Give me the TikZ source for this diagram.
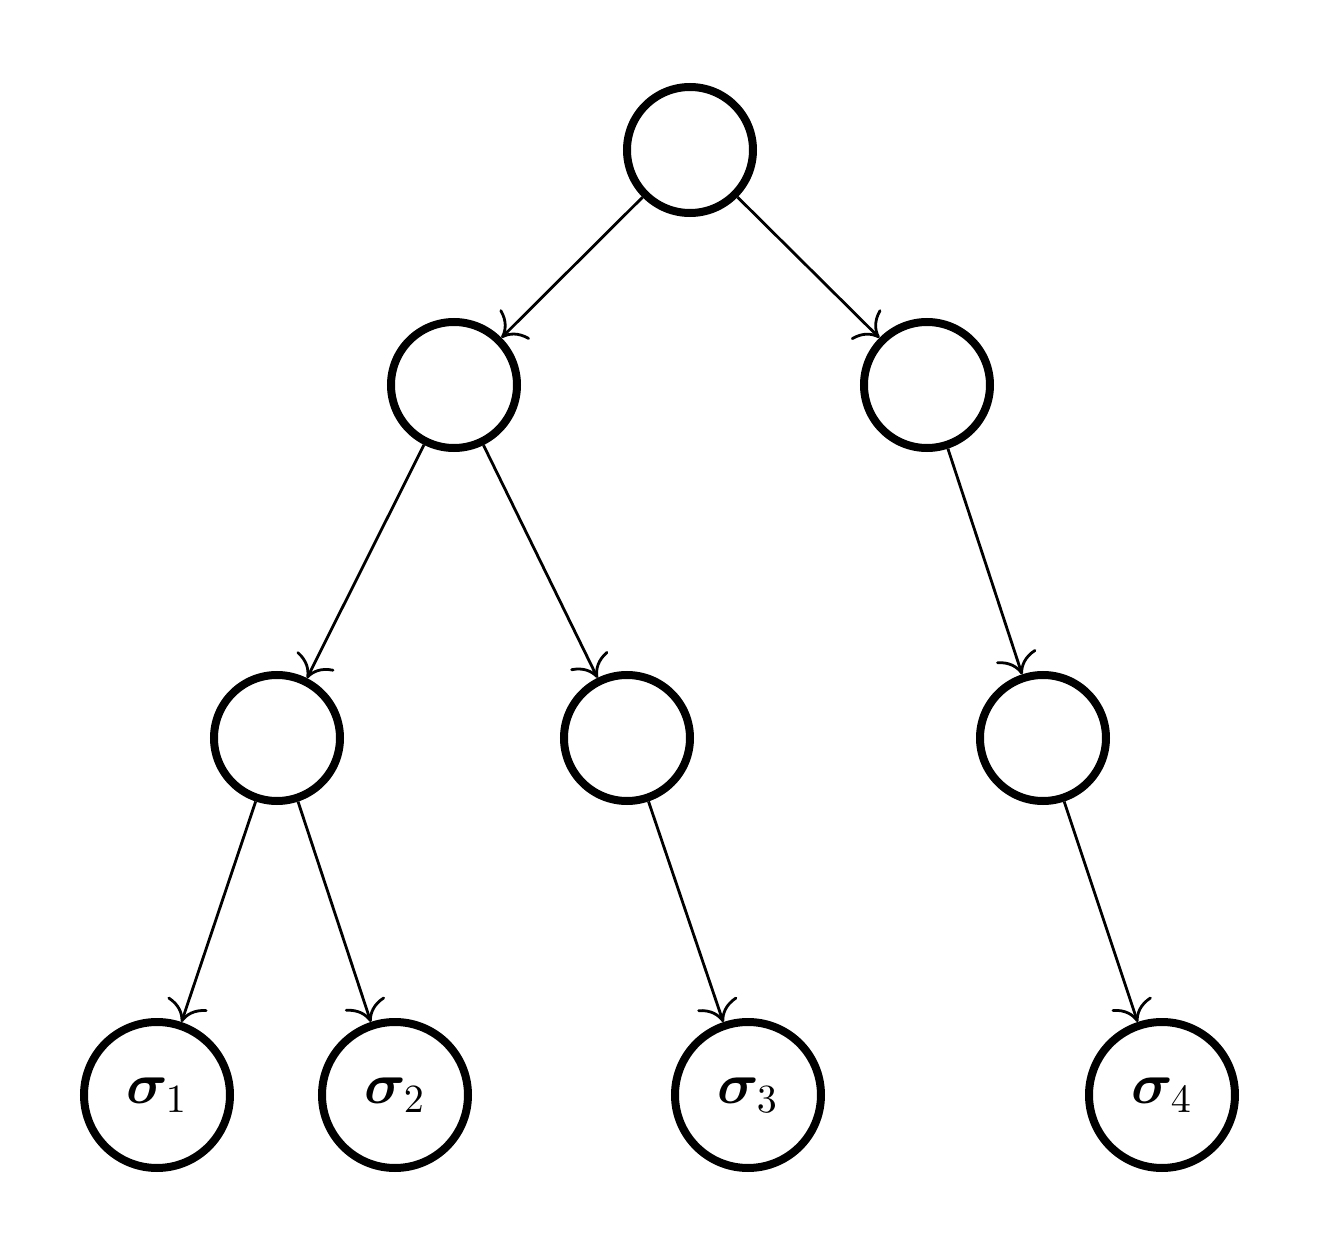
\documentclass[tikz,border=0pt]{standalone}
\usepackage{amsmath,bm}
\usetikzlibrary{arrows.meta}
\begin{document}
\begin{tikzpicture}[x=0.25pt,y=-0.25pt,
  nd/.style={circle,draw,line width=2pt,minimum size=31.5pt,inner sep=0pt},
  lf/.style={circle,draw,line width=2pt,minimum size=36.5pt,inner sep=0pt,font=\Large},
  ar/.style={-{To[scale=1.6]},line width=0.7pt}]
\useasboundingbox (0,0) rectangle (1321,1253);
\node[nd] (r) at (690,150) {};
\node[nd] (a) at (454,385) {};
\node[nd] (b) at (927,385) {};
\node[nd] (c) at (277,738) {};
\node[nd] (d) at (627,738) {};
\node[nd] (e) at (1043,738) {};
\node[lf] (l1) at (157,1095) {$\bm{\sigma}_1$};
\node[lf] (l2) at (395,1095) {$\bm{\sigma}_2$};
\node[lf] (l3) at (748,1095) {$\bm{\sigma}_3$};
\node[lf] (l4) at (1162,1095) {$\bm{\sigma}_4$};
\draw[ar] (r) -- (a);
\draw[ar] (r) -- (b);
\draw[ar] (a) -- (c);
\draw[ar] (a) -- (d);
\draw[ar] (b) -- (e);
\draw[ar] (c) -- (l1);
\draw[ar] (c) -- (l2);
\draw[ar] (d) -- (l3);
\draw[ar] (e) -- (l4);
\end{tikzpicture}
\end{document}
